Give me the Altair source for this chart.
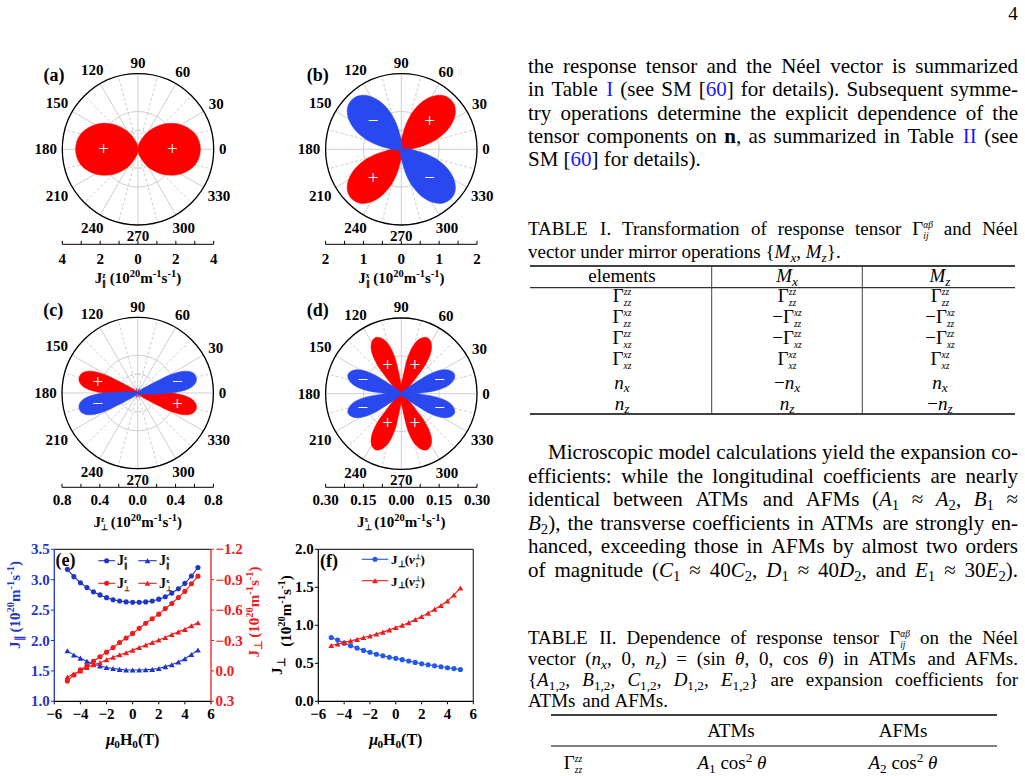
import math
import re
import altair as alt
import pandas as pd

W, H = 1025, 776
SERIF = "Liberation Serif"
RED = "#ff0000"
BLUE = "#2a48f0"
BLUE_E = "#1f35c9"
RED_E = "#ee1c1c"
BLUE_F = "#2456f0"
LINK = "#1a1aff"
GRID = "#cfcfcf"

# ---------------- data: panels (e) and (f) ----------------
FIELD_T = [-5.0, -4.5, -4.0, -3.5, -3.0, -2.5, -2.0, -1.5, -1.0, -0.5, 0.0,
           0.5, 1.0, 1.5, 2.0, 2.5, 3.0, 3.5, 4.0, 4.5, 5.0]
J_PAR_Z = [3.17, 3.05, 2.95, 2.87, 2.80, 2.75, 2.705, 2.67, 2.65, 2.635, 2.63,
           2.63, 2.635, 2.65, 2.68, 2.72, 2.78, 2.85, 2.94, 3.06, 3.20]
J_PAR_X = [1.83, 1.76, 1.71, 1.66, 1.61, 1.58, 1.555, 1.54, 1.525, 1.515, 1.515,
           1.515, 1.52, 1.525, 1.54, 1.57, 1.60, 1.645, 1.70, 1.77, 1.845]
J_PERP_Z = [0.10, 0.04, -0.01, -0.05, -0.095, -0.14, -0.185, -0.23, -0.28, -0.325, -0.37,
            -0.42, -0.47, -0.515, -0.56, -0.615, -0.665, -0.725, -0.785, -0.86, -0.935]
J_PERP_X = [0.06, 0.03, 0.00, -0.035, -0.06, -0.08, -0.11, -0.135, -0.16, -0.18, -0.205,
            -0.23, -0.255, -0.28, -0.305, -0.33, -0.36, -0.385, -0.41, -0.445, -0.475]
J_NU1 = [0.84, 0.805, 0.765, 0.73, 0.70, 0.67, 0.645, 0.62, 0.60, 0.58, 0.565,
         0.548, 0.53, 0.512, 0.495, 0.48, 0.468, 0.455, 0.442, 0.43, 0.418]
J_NU2 = [0.735, 0.755, 0.775, 0.795, 0.815, 0.84, 0.86, 0.885, 0.91, 0.94, 0.97,
         1.0, 1.035, 1.075, 1.115, 1.16, 1.21, 1.26, 1.32, 1.40, 1.49]

E_XTICKS = [-6, -4, -2, 0, 2, 4, 6]
E_YTICKS_L = [1.0, 1.5, 2.0, 2.5, 3.0, 3.5]
E_YTICKS_R = [-1.2, -0.9, -0.6, -0.3, 0.0, 0.3]
F_YTICKS = [0.0, 0.5, 1.0, 1.5, 2.0]

# ---------------- data: polar panels (a)-(d) ----------------
# lobe outline: relative radius at 0,1/6..6/6 of the lobe half-width
A_PROFILE = [1.0, 0.95, 0.79, 0.57, 0.33, 0.12, 0.0]
A_CENTER = [0, 180]
A_HALF = [90, 90]
A_TIP = [3.3, 3.3]
A_SIGN = [1, 1]
A_MARK = [True, True]

B_PROFILE = [1.0, 0.97, 0.87, 0.71, 0.50, 0.26, 0.0]
B_CENTER = [45, 135, 225, 315]
B_HALF = [45, 45, 45, 45]
B_TIP = [1.85, 1.85, 1.85, 1.85]
B_SIGN = [1, -1, 1, -1]
B_MARK = [True, True, True, True]

C_PROFILE = [1.0, 0.99, 0.95, 0.87, 0.72, 0.46, 0.0]
C_CENTER = [15, 165, 195, 345, 70, 110, 250, 290]
C_HALF = [19, 19, 19, 19, 9, 9, 9, 9]
C_TIP = [0.64, 0.64, 0.64, 0.64, 0.05, 0.05, 0.05, 0.05]
C_SIGN = [-1, 1, -1, 1, 1, -1, 1, -1]
C_MARK = [True, True, True, True, False, False, False, False]

D_PROFILE = [1.0, 0.98, 0.93, 0.84, 0.69, 0.45, 0.0]
D_CENTER = [20, 65, 115, 160, 200, 245, 295, 340]
D_HALF = [20, 20, 20, 20, 20, 20, 20, 20]
D_TIP = [0.225, 0.245, 0.245, 0.225, 0.225, 0.245, 0.245, 0.225]
D_SIGN = [-1, 1, 1, -1, -1, 1, 1, -1]
D_MARK = [True] * 8

ANGLE_TICKS = [0, 30, 60, 90, 120, 150, 180, 210, 240, 270, 300, 330]
SPOKES = list(range(0, 360, 15))
RING_FRAC = [0.25, 0.5, 0.75]

# ---------------- page text ----------------
P1_LINES = [
    "the response tensor and the Néel vector is summarized",
    "in Table <b:I> (see SM [<b:60>] for details). Subsequent symme-",
    "try operations determine the explicit dependence of the",
    "tensor components on <B:n>, as summarized in Table <b:II> (see",
    "SM [<b:60>] for details).",
]
P1_JUST = [True, True, True, True, False]
CAP1_LINES = [
    "TABLE I. Transformation of response tensor Γ<si:αβ|ij> and Néel",
    "vector under mirror operations {<i:M><_i:x>, <i:M><_i:z>}.",
]
CAP1_JUST = [True, False]
T1_HEAD = ["elements", "<i:M><_i:x>", "<i:M><_i:z>"]
T1_ROWS = [
    ["Γ<si:zz|zz>", "Γ<si:zz|zz>", "Γ<si:zz|zz>"],
    ["Γ<si:xz|zz>", "−Γ<si:xz|zz>", "−Γ<si:xz|zz>"],
    ["Γ<si:zz|xz>", "−Γ<si:zz|xz>", "−Γ<si:zz|xz>"],
    ["Γ<si:xz|xz>", "Γ<si:xz|xz>", "Γ<si:xz|xz>"],
    ["<i:n><_i:x>", "−<i:n><_i:x>", "<i:n><_i:x>"],
    ["<i:n><_i:z>", "<i:n><_i:z>", "−<i:n><_i:z>"],
]
P2_LINES = [
    "Microscopic model calculations yield the expansion co-",
    "efficients: while the longitudinal coefficients are nearly",
    "identical between ATMs and AFMs (<i:A><_:1> ≈ <i:A><_:2>, <i:B><_:1> ≈",
    "<i:B><_:2>), the transverse coefficients in ATMs are strongly en-",
    "hanced, exceeding those in AFMs by almost two orders",
    "of magnitude (<i:C><_:1> ≈ 40<i:C><_:2>, <i:D><_:1> ≈ 40<i:D><_:2>, and <i:E><_:1> ≈ 30<i:E><_:2>).",
]
P2_JUST = [True, True, True, True, True, True]
CAP2_LINES = [
    "TABLE II. Dependence of response tensor Γ<si:αβ|ij> on the Néel",
    "vector (<i:n><_i:x>, 0, <i:n><_i:z>) = (sin <i:θ>, 0, cos <i:θ>) in ATMs and AFMs.",
    "{<i:A><_:1,2>, <i:B><_:1,2>, <i:C><_:1,2>, <i:D><_:1,2>, <i:E><_:1,2>} are expansion coefficients for",
    "ATMs and AFMs.",
]
CAP2_JUST = [True, True, True, False]
T2_HEAD = ["", "ATMs", "AFMs"]
T2_ROW = ["Γ<si:zz|zz>", "<i:A><_:1> cos<^:2> <i:θ>", "<i:A><_:2> cos<^:2> <i:θ>"]

# ---------------- text metrics (Times-compatible) ----------------
_LO = "abcdefghijklmnopqrstuvwxyz"
_UP = "ABCDEFGHIJKLMNOPQRSTUVWXYZ"


def _mk(lo, up):
    d = {c: v / 1000 for c, v in zip(_LO, lo)}
    d.update({c: v / 1000 for c, v in zip(_UP, up)})
    for c in "0123456789":
        d[c] = 0.5
    return d


TR = _mk([444, 500, 444, 500, 444, 333, 500, 500, 278, 278, 500, 278, 778, 500, 500, 500, 500, 333, 389, 278, 500, 500, 722, 500, 500, 444],
         [722, 667, 667, 722, 611, 556, 722, 722, 333, 389, 722, 611, 889, 722, 722, 556, 722, 667, 556, 611, 722, 722, 944, 722, 722, 611])
TB = _mk([500, 556, 444, 556, 444, 333, 500, 556, 278, 333, 556, 278, 833, 556, 500, 556, 556, 444, 389, 333, 556, 500, 722, 500, 500, 444],
         [722, 667, 722, 722, 667, 611, 778, 778, 389, 500, 778, 667, 944, 722, 778, 611, 778, 722, 556, 667, 722, 722, 1000, 722, 722, 667])
TI = _mk([500, 500, 444, 500, 444, 278, 500, 500, 278, 278, 444, 278, 722, 500, 500, 500, 500, 389, 389, 278, 500, 444, 667, 444, 444, 389],
         [611, 611, 667, 722, 611, 611, 722, 722, 333, 444, 667, 556, 833, 667, 722, 611, 722, 611, 500, 556, 722, 611, 833, 611, 556, 556])
PUNCT = {" ": 0.25, ".": 0.25, ",": 0.25, ":": 0.278, ";": 0.278, "(": 0.333, ")": 0.333,
         "[": 0.333, "]": 0.333, "{": 0.48, "}": 0.48, "-": 0.333, "=": 0.564, "+": 0.564,
         "é": 0.444, "−": 0.564, "≈": 0.548, "Γ": 0.578, "θ": 0.5, "α": 0.53, "β": 0.5,
         "μ": 0.52, "ν": 0.47, "∥": 0.5, "⊥": 0.8}
SC = 0.7     # single super/subscript scale
SS = 0.5     # stacked script scale


def text_w(s, size, weight="normal", italic=False):
    tab = TI if italic else (TB if weight == "bold" else TR)
    return size * sum(tab.get(ch, PUNCT.get(ch, 0.5)) for ch in s)


TEXT = []


def put(t, x, y, size, color="black", weight="normal", italic=False,
        align="left", baseline="alphabetic", angle=0):
    TEXT.append(dict(t=t, x=round(x, 2), y=round(y, 2), s=round(size, 2), c=color, a=angle,
                     w=weight, st="italic" if italic else "normal", al=align, bl=baseline))


def P(t, k="n", it=False, c=None, w=None):
    return dict(t=t, k=k, it=it, c=c, w=w)


def part_w(p, size, weight):
    w = p["w"] or weight
    if p["k"] == "n":
        return text_w(p["t"], size, w, p["it"])
    if p["k"] in ("sup", "sub"):
        return text_w(p["t"], size * SC, w, p["it"])
    a, b = p["t"]
    return max(text_w(a, size * SS, w, p["it"]), text_w(b, size * SS, w, p["it"]))


def runs(x, y, parts, size, color="black", weight="normal", angle=0, align="left"):
    widths = [part_w(p, size, weight) for p in parts]
    total = sum(widths)
    start = {"left": 0.0, "center": -total / 2, "right": -total}[align]
    ar = math.radians(angle)
    ux, uy = math.cos(ar), math.sin(ar)
    vx, vy = math.sin(ar), -math.cos(ar)
    adv = start
    for p, wd in zip(parts, widths):
        col = p["c"] or color
        wt = p["w"] or weight
        bx, by = x + adv * ux, y + adv * uy

        def emit(t, sz, shift):
            lead = len(t) - len(t.lstrip(" "))
            t2 = t.strip(" ")
            if not t2:
                return
            off = text_w(" " * lead, sz, wt, p["it"])
            put(t2, bx + off * ux + shift * vx, by + off * uy + shift * vy, sz, col, wt, p["it"],
                "left", "alphabetic", angle)

        if p["k"] == "n":
            emit(p["t"], size, 0)
        elif p["k"] == "sup":
            emit(p["t"], size * SC, 0.38 * size)
        elif p["k"] == "sub":
            emit(p["t"], size * SC, -0.2 * size)
        else:
            emit(p["t"][0], size * SS, 0.36 * size)
            emit(p["t"][1], size * SS, -0.2 * size)
        adv += wd
    return total


TOK = re.compile(r"<([a-zA-Z^_]+):([^>]*)>")


def parse(s):
    parts, pos = [], 0
    for m in TOK.finditer(s):
        if m.start() > pos:
            parts.append(P(s[pos:m.start()]))
        code, txt = m.group(1), m.group(2)
        it = "i" in code
        c = LINK if "b" in code else None
        w = "bold" if "B" in code else None
        if "s" in code:
            parts.append(P(tuple(txt.split("|")), "ss", it, c, w))
        elif "^" in code:
            parts.append(P(txt, "sup", it, c, w))
        elif "_" in code:
            parts.append(P(txt, "sub", it, c, w))
        else:
            parts.append(P(txt, "n", it, c, w))
        pos = m.end()
    if pos < len(s):
        parts.append(P(s[pos:]))
    return parts


def jline(s, y, x0, x1, size, justify=True):
    words = s.split(" ")
    wparts = [parse(w) for w in words]
    widths = [sum(part_w(p, size, "normal") for p in wp) for wp in wparts]
    if justify and len(words) > 1:
        gap = (x1 - x0 - sum(widths)) / (len(words) - 1)
    else:
        gap = text_w(" ", size)
    x = x0
    for i, (wp, wd) in enumerate(zip(wparts, widths)):
        if justify and len(words) > 1 and i == len(words) - 1:
            runs(x1, y, wp, size, align="right")
        else:
            runs(x, y, wp, size)
        x += wd + gap


UNIT = [P(" (10"), P("20", "sup"), P("m"), P("-1", "sup"), P("s"), P("-1", "sup"), P(")")]

ONE = pd.DataFrame({"k": [0]})
layers = []


def sc(domain, rng):
    return alt.Scale(domain=domain, range=rng, zero=False, nice=False)


def hrule(x0, x1, y, color="black", w=1.0):
    return alt.Chart(ONE).mark_rule(color=color, strokeWidth=w).encode(
        x=alt.value(x0), x2=alt.value(x1), y=alt.value(y))


def vrule(x, y0, y1, color="black", w=1.0):
    return alt.Chart(ONE).mark_rule(color=color, strokeWidth=w).encode(
        x=alt.value(x), y=alt.value(y0), y2=alt.value(y1))


# ---------------- polar panels ----------------
RPX = 75.7


def polar(label, label_y, cx, cy, rdata, centers, halves, tips, signs, marks, profile,
          sign_frac, ticks_major, dec, axis_y, tick_base, title_base, title_sym):
    sx = sc([-rdata, rdata], [cx - RPX, cx + RPX])
    sy = sc([-rdata, rdata], [cy + RPX, cy - RPX])
    rscale = alt.Scale(type="linear", domain=[0, rdata], range=[0, RPX], zero=True, nice=False)
    # rings
    rings = pd.DataFrame({"r": [rdata * f for f in RING_FRAC], "dash": [True, False, True]})
    for dash in (True, False):
        sub = rings[rings.dash == dash]
        kw = {"strokeDash": [3, 2]} if dash else {}
        layers.append(alt.Chart(sub).mark_arc(filled=False, stroke=GRID, strokeWidth=1, **kw).encode(
            x=alt.value(cx), y=alt.value(cy), theta=alt.value(0), theta2=alt.value(2 * math.pi),
            radius=alt.Radius("r:Q", scale=rscale)))
    # spokes
    sp = pd.DataFrame({"ang": SPOKES})
    sp["x0"] = 0.0
    sp["y0"] = 0.0
    sp["x1"] = [rdata * math.cos(math.radians(a)) for a in SPOKES]
    sp["y1"] = [rdata * math.sin(math.radians(a)) for a in SPOKES]
    sp["solid"] = [a % 30 == 0 for a in SPOKES]
    for solid in (True, False):
        kw = {} if solid else {"strokeDash": [3, 2]}
        layers.append(alt.Chart(sp[sp.solid == solid]).mark_rule(color=GRID, strokeWidth=1, **kw).encode(
            x=alt.X("x0:Q", scale=sx, axis=None), y=alt.Y("y0:Q", scale=sy, axis=None),
            x2="x1:Q", y2="y1:Q"))
    # lobes
    rows = []
    for k, (c, hw, tip, sg) in enumerate(zip(centers, halves, tips, signs)):
        for j in range(-6, 6):
            th = math.radians(c + j / 6 * hw)
            r = tip * profile[abs(j)]
            rows.append(dict(lobe=k, i=j + 6, x=r * math.cos(th), y=r * math.sin(th), sg=sg))
    df = pd.DataFrame(rows)
    for sg, col in ((1, RED), (-1, BLUE)):
        sub = df[df.sg == sg]
        if len(sub):
            layers.append(alt.Chart(sub).mark_line(interpolate="cardinal-closed", fill=col, stroke=col,
                                                   strokeWidth=0.5, fillOpacity=1).encode(
                x=alt.X("x:Q", scale=sx, axis=None), y=alt.Y("y:Q", scale=sy, axis=None),
                detail="lobe:N", order="i:Q"))
    # outer circle
    layers.append(alt.Chart(pd.DataFrame({"r": [rdata]})).mark_arc(filled=False, stroke="black", strokeWidth=1.3).encode(
        x=alt.value(cx), y=alt.value(cy), theta=alt.value(0), theta2=alt.value(2 * math.pi),
        radius=alt.Radius("r:Q", scale=rscale)))
    # signs
    srows = []
    for c, tip, sg, mk, fr in zip(centers, tips, signs, marks, sign_frac):
        if mk:
            srows.append(dict(x=fr * tip * math.cos(math.radians(c)), y=fr * tip * math.sin(math.radians(c)),
                              t="+" if sg > 0 else "−"))
    layers.append(alt.Chart(pd.DataFrame(srows)).mark_text(color="white", fontSize=19, font=SERIF,
                                                         baseline="middle", align="center").encode(
        x=alt.X("x:Q", scale=sx, axis=None), y=alt.Y("y:Q", scale=sy, axis=None), text="t:N"))
    # angle labels
    for a in ANGLE_TICKS:
        t = str(a)
        hw = len(t) * 0.5 * 15 / 2
        ca, sa = math.cos(math.radians(a)), math.sin(math.radians(a))
        r = 81 + abs(ca) * hw + abs(sa) * 5.5
        put(t, cx + r * ca, cy - r * sa + 5, 15, weight="bold", align="center")
    # bottom axis
    step = ticks_major[1] - ticks_major[0]
    allt = [ticks_major[0] + i * step / 2 for i in range(2 * (len(ticks_major) - 1) + 1)]
    layers.append(alt.Chart(pd.DataFrame({"v0": [-rdata], "v1": [rdata]})).mark_rule(color="black", strokeWidth=1).encode(
        x=alt.X("v0:Q", scale=sx, axis=None), x2="v1:Q", y=alt.value(axis_y)))
    layers.append(alt.Chart(pd.DataFrame({"v": allt})).mark_rule(color="black", strokeWidth=1).encode(
        x=alt.X("v:Q", scale=sx, axis=None), y=alt.value(axis_y - 3.5), y2=alt.value(axis_y)))
    lab = pd.DataFrame({"v": ticks_major, "lab": [f"{abs(v):.{dec}f}" for v in ticks_major]})
    layers.append(alt.Chart(lab).mark_text(font=SERIF, fontWeight="bold", fontSize=15, color="black",
                                           baseline="alphabetic", align="center").encode(
        x=alt.X("v:Q", scale=sx, axis=None), y=alt.value(tick_base), text="lab:N"))
    runs(cx, title_base, [P("J"), P(title_sym, "ss")] + UNIT, 15, weight="bold", align="center")
    put(label, cx - 94.5, label_y, 18, weight="bold")


polar("(a)", 81, 138.0, 149.3, 4.0, A_CENTER, A_HALF, A_TIP, A_SIGN, A_MARK, A_PROFILE,
      [0.55] * 2, [-4, -2, 0, 2, 4], 0, 244.3, 263.5, 283, ("z", "∥"))
polar("(b)", 81, 401.3, 149.3, 2.0, B_CENTER, B_HALF, B_TIP, B_SIGN, B_MARK, B_PROFILE,
      [0.57] * 4, [-2, -1, 0, 1, 2], 0, 244.3, 263.5, 283, ("x", "∥"))
polar("(c)", 316, 137.7, 393.0, 0.8, C_CENTER, C_HALF, C_TIP, C_SIGN, C_MARK, C_PROFILE,
      [0.68] * 8, [-0.8, -0.4, 0.0, 0.4, 0.8], 1, 487.3, 504.5, 527, ("z", "⊥"))
polar("(d)", 316, 401.3, 393.7, 0.3, D_CENTER, D_HALF, D_TIP, D_SIGN, D_MARK, D_PROFILE,
      [0.72, 0.52, 0.52, 0.72, 0.72, 0.52, 0.52, 0.72], [-0.3, -0.15, 0.0, 0.15, 0.3], 2, 487.3, 504.5, 527,
      ("x", "⊥"))


# ---------------- cartesian panels (e), (f) ----------------
def fnum(v, d):
    s = f"{abs(v):.{d}f}"
    return ("−" if v < -1e-9 else "") + s


def series(df, yf, sx, sy, color, shape, size):
    base = alt.Chart(df).encode(x=alt.X("h:Q", scale=sx, axis=None), y=alt.Y(f"{yf}:Q", scale=sy, axis=None))
    return [base.mark_line(color=color, strokeWidth=1.1),
            base.mark_point(shape=shape, filled=True, color=color, size=size, opacity=1, strokeWidth=0)]


E_L, E_R, E_T, E_B = 54.3, 211.0, 549.3, 701.3
F_L, F_R, F_T, F_B = 318.3, 473.3, 549.3, 701.3

sxe = sc([-6, 6], [E_L, E_R])
sye = sc([1.0, 3.5], [E_B, E_T])
sre = sc([-1.2, 0.3], [E_T, E_B])
df_e = pd.DataFrame({"h": FIELD_T, "pz": J_PAR_Z, "px": J_PAR_X, "tz": J_PERP_Z, "tx": J_PERP_X})
layers += series(df_e, "px", sxe, sye, BLUE_E, "triangle-up", 34)
layers += series(df_e, "pz", sxe, sye, BLUE_E, "circle", 26)
layers += series(df_e, "tx", sxe, sre, RED_E, "triangle-up", 34)
layers += series(df_e, "tz", sxe, sre, RED_E, "circle", 26)

sxf = sc([-6, 6], [F_L, F_R])
syf = sc([0.0, 2.0], [F_B, F_T])
df_f = pd.DataFrame({"h": FIELD_T, "n1": J_NU1, "n2": J_NU2})
layers += series(df_f, "n1", sxf, syf, BLUE_F, "circle", 26)
layers += series(df_f, "n2", sxf, syf, RED_E, "triangle-up", 34)


def xaxis(sx, L, R, T, B):
    layers.append(hrule(L, R, T, "#333333", 1.2))
    layers.append(hrule(L, R, B, "black", 1.2))
    tk = pd.DataFrame({"v": E_XTICKS, "lab": [fnum(v, 0) for v in E_XTICKS]})
    layers.append(alt.Chart(tk).mark_rule(color="black").encode(
        x=alt.X("v:Q", scale=sx, axis=None), y=alt.value(B), y2=alt.value(B + 3)))
    layers.append(alt.Chart(tk).mark_text(font=SERIF, fontWeight="bold", fontSize=15, align="center",
                                          baseline="alphabetic", color="black").encode(
        x=alt.X("v:Q", scale=sx, axis=None), y=alt.value(B + 17.5), text="lab:N"))


def yaxis(sy, ticks, x, color, side):
    tk = pd.DataFrame({"v": ticks, "lab": [fnum(v, 1) for v in ticks]})
    x2 = x - 3.5 if side == "left" else x + 3
    layers.append(alt.Chart(tk).mark_rule(color=color).encode(
        y=alt.Y("v:Q", scale=sy, axis=None), x=alt.value(x), x2=alt.value(x2)))
    lx = x - 4.5 if side == "left" else x + 4.5
    layers.append(alt.Chart(tk).mark_text(font=SERIF, fontWeight="bold", fontSize=15,
                                          align="right" if side == "left" else "left",
                                          baseline="middle", color=color).encode(
        y=alt.Y("v:Q", scale=sy, axis=None), x=alt.value(lx), text="lab:N"))


xaxis(sxe, E_L, E_R, E_T, E_B)
layers.append(vrule(E_L, E_T, E_B, BLUE_E, 1.3))
layers.append(vrule(E_R, E_T, E_B, RED_E, 1.3))
yaxis(sye, E_YTICKS_L, E_L, BLUE_E, "left")
yaxis(sre, E_YTICKS_R, E_R, RED_E, "right")

xaxis(sxf, F_L, F_R, F_T, F_B)
layers.append(vrule(F_L, F_T, F_B, "black", 1.2))
layers.append(vrule(F_R, F_T, F_B, "#333333", 1.2))
yaxis(syf, F_YTICKS, F_L, "black", "left")


def legend_item(x0, x1, y, color, shape, size):
    layers.append(hrule(x0, x1, y, color, 1.1))
    layers.append(alt.Chart(ONE).mark_point(shape=shape, filled=True, color=color, size=size, opacity=1,
                                            strokeWidth=0).encode(
        x=alt.value((x0 + x1) / 2), y=alt.value(y)))


legend_item(98.3, 115.0, 560.7, BLUE_E, "circle", 26)
legend_item(138.3, 156.7, 560.7, BLUE_E, "triangle-up", 34)
legend_item(98.3, 115.0, 583.3, RED_E, "circle", 26)
legend_item(138.3, 156.7, 583.3, RED_E, "triangle-up", 34)
runs(117, 565, [P("J"), P(("z", "∥"), "ss")], 14, weight="bold")
runs(159, 565, [P("J"), P(("x", "∥"), "ss")], 14, weight="bold")
runs(117, 588, [P("J"), P(("z", "⊥"), "ss")], 14, weight="bold")
runs(159, 588, [P("J"), P(("x", "⊥"), "ss")], 14, weight="bold")

legend_item(361.7, 388.3, 559.3, BLUE_F, "circle", 26)
legend_item(361.7, 388.3, 580.7, RED_E, "triangle-up", 34)
runs(391, 564, [P("J"), P("⊥", "sub"), P("("), P("ν", it=True), P(("⊥", "1"), "ss"), P(")")], 13, weight="bold")
runs(391, 585.5, [P("J"), P("⊥", "sub"), P("("), P("ν", it=True), P(("⊥", "2"), "ss"), P(")")], 13, weight="bold")

put("(e)", 55.5, 566, 18, weight="bold")
put("(f)", 320, 567, 18, weight="bold")

mu = [P("μ", it=True), P("0", "sub"), P("H"), P("0", "sub"), P("(T)")]
runs((E_L + E_R) / 2, 745, mu, 16, weight="bold", align="center")
runs((F_L + F_R) / 2, 745, mu, 16, weight="bold", align="center")

runs(20, 605, [P("J"), P("∥", "sub")] + UNIT, 15, color=BLUE_E, weight="bold",
     angle=-90, align="center")
runs(258.5, 612, [P("J"), P("⊥", "sub")] + UNIT, 15, color=RED_E, weight="bold",
     angle=-90, align="center")
runs(282, 667, [P("J"), P("⊥", "sub")], 15, weight="bold", angle=-90, align="center")
runs(291, 611, [P("(10")] + UNIT[1:], 15, weight="bold", angle=-90, align="center")

# ---------------- page text ----------------
X0, X1 = 528, 1018
put("4", 1013, 20, 19, align="center")
BODY = 21
for i, (s, j) in enumerate(zip(P1_LINES, P1_JUST)):
    jline(s, 73 + i * 23.3, X0, X1, BODY, j)
CAP = 19
for i, (s, j) in enumerate(zip(CAP1_LINES, CAP1_JUST)):
    jline(s, 235 + i * 23, X0, X1, CAP, j)

T1_X = [622, 787, 940]
for s, x in zip(T1_HEAD, T1_X):
    runs(x, 282, parse(s), CAP, align="center")
T1_Y = [302, 323, 344, 365, 388.5, 409.5]
for row, y in zip(T1_ROWS, T1_Y):
    for s, x in zip(row, T1_X):
        runs(x, y, parse(s), CAP, align="center")
layers.append(hrule(530, 1015, 266, "black", 1.6))
layers.append(hrule(530, 1015, 287.7, "black", 1.0))
layers.append(hrule(530, 1015, 414, "black", 1.6))
layers.append(vrule(711.7, 266, 414, "#444444", 1.0))
layers.append(vrule(862.3, 266, 414, "#444444", 1.0))

for i, (s, j) in enumerate(zip(P2_LINES, P2_JUST)):
    jline(s, 459 + i * 23.5, X0 + (20 if i == 0 else 0), X1, BODY, j)

for i, (s, j) in enumerate(zip(CAP2_LINES, CAP2_JUST)):
    jline(s, 644 + i * 21.1, X0, X1, CAP, j)
T2_X = [573, 732, 903]
for s, x in zip(T2_HEAD, T2_X):
    if s:
        runs(x, 737, parse(s), CAP, align="center")
for s, x in zip(T2_ROW, T2_X):
    runs(x, 769, parse(s), CAP, align="center")
layers.append(hrule(551, 997, 715, "black", 1.6))
layers.append(hrule(551, 997, 746, "black", 1.0))

# ---------------- text layers ----------------
tdf = pd.DataFrame(TEXT)
for (w, st, al, bl), g in tdf.groupby(["w", "st", "al", "bl"]):
    layers.append(alt.Chart(g[["t", "x", "y", "s", "c", "a"]]).mark_text(
        font=SERIF, fontWeight=w, fontStyle=st, align=al, baseline=bl).encode(
        x=alt.X("x:Q", scale=None, axis=None),
        y=alt.Y("y:Q", scale=None, axis=None),
        text=alt.Text("t:N"),
        size=alt.Size("s:Q", scale=None, legend=None),
        color=alt.Color("c:N", scale=None, legend=None),
        angle=alt.Angle("a:Q", scale=None)))

chart = alt.layer(*layers).resolve_scale(
    x="independent", y="independent", radius="independent"
).properties(
    width=W, height=H, autosize=alt.AutoSizeParams(type="none"), padding=0, background="white"
).configure_view(strokeWidth=0)

chart.save("out.html", embed_options={"renderer": "svg", "actions": False})
